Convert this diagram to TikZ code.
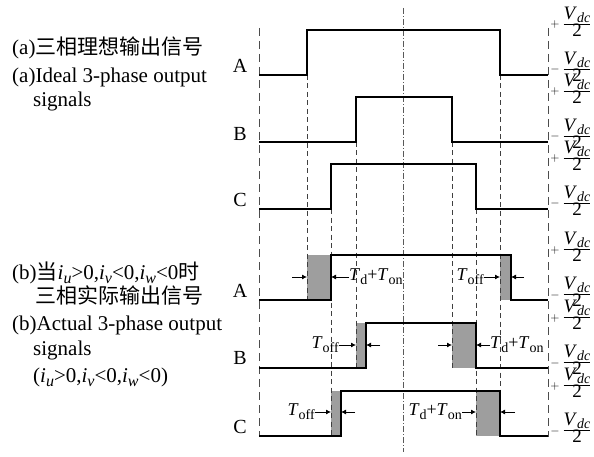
\documentclass[tikz,border=0pt]{standalone}
\usepackage{fontspec}
\setmainfont{Liberation Serif}
\newfontfamily\cjk{Noto Sans CJK SC}
\usetikzlibrary{arrows.meta}
\newcommand\mysub[1]{\raisebox{-0.22em}{\fontsize{14}{14}\selectfont #1}}
\newcommand\myvfrac{{\fontsize{19}{18}\selectfont\renewcommand\arraystretch{0.86}\setlength\tabcolsep{0pt}%
  \begin{tabular}{c}\textit{V}\raisebox{-0.2em}{\fontsize{14}{14}\selectfont\textit{dc}}\\\hline 2\end{tabular}}}
\newcommand\myToff{\textit{T}\mysub{off}}
\newcommand\myTdon{\textit{T}\mysub{d}+\textit{T}\mysub{on}}
\newcommand\myiu[1]{\textit{i}\raisebox{-0.2em}{\fontsize{16}{16}\selectfont\textit{#1}}}
\begin{document}
\begin{tikzpicture}[x=1pt,y=-1pt,
  wave/.style={line width=1.9pt, line join=miter},
  guide/.style={line width=0.8pt, dash pattern=on 5pt off 3.5pt, black!75},
  border/.style={line width=1pt, dash pattern=on 8pt off 5pt, black!70},
  ctrline/.style={line width=0.7pt, dash pattern=on 6pt off 2pt on 1pt off 2pt, black!65},
  ann/.style={-{Latex[length=5pt,width=5pt]}, line width=0.8pt},
  shade/.style={fill=black!38},
  captxt/.style={anchor=base west, inner sep=0pt, font=\fontsize{21}{25}\selectfont},
  phase/.style={anchor=base, inner sep=0pt, font=\fontsize{20}{24}\selectfont},
  tlab/.style={inner sep=0pt, font=\fontsize{18}{20}\selectfont},
  sgn/.style={inner sep=0pt, font=\fontsize{13}{13}\selectfont},
  frc/.style={inner sep=0pt}]
\useasboundingbox (0,0) rectangle (594,457);

% grey intervals
\fill[shade] (307,255) rectangle (331,300);
\fill[shade] (500,255) rectangle (511,300);
\fill[shade] (356,323) rectangle (366,368);
\fill[shade] (452,323) rectangle (476,368);
\fill[shade] (331,391) rectangle (341,436);
\fill[shade] (476,391) rectangle (500,436);

% frame and guide lines
\draw[border] (259,28) -- (259,437);
\draw[border] (548,28) -- (548,437);
\draw[ctrline] (403,8) -- (403,452);
\draw[guide] (307,75) -- (307,300);
\draw[guide] (500,75) -- (500,436);
\draw[guide] (356,142) -- (356,368);
\draw[guide] (452,142) -- (452,368);
\draw[guide] (331,209) -- (331,437);
\draw[guide] (476,209) -- (476,436);

% ideal waveforms
\draw[wave] (259,75) -- (307,75) -- (307,30) -- (500,30) -- (500,75) -- (548,75);
\draw[wave] (259,142) -- (356,142) -- (356,97) -- (452,97) -- (452,142) -- (548,142);
\draw[wave] (259,209) -- (331,209) -- (331,164) -- (476,164) -- (476,209) -- (548,209);
% actual waveforms
\draw[wave] (259,300) -- (331,300) -- (331,255) -- (511,255) -- (511,300) -- (548,300);
\draw[wave] (259,368) -- (366,368) -- (366,323) -- (476,323) -- (476,368) -- (548,368);
\draw[wave] (259,436) -- (341,436) -- (341,391) -- (500,391) -- (500,436) -- (548,436);

% captions
\node[captxt] (ta1) at (12,55) {(a){\cjk 三相理想输出信号}};
\node[captxt] (ta2) at (12,83) {(a)Ideal 3-phase output};
\node[captxt] (ta3) at (33,107) {signals};
\node[captxt] (tb1) at (12,279) {(b){\cjk 当}\myiu{u}>0,\myiu{v}<0,\myiu{w}<0{\cjk 时}};
\node[captxt] (tb2) at (35,303) {{\cjk 三相实际输出信号}};
\node[captxt] (tb3) at (12,330) {(b)Actual 3-phase output};
\node[captxt] (tb4) at (33,355) {signals};
\node[captxt] (tb5) at (33,382) {(\myiu{u}>0,\myiu{v}<0,\myiu{w}<0)};

% phase letters
\node[phase] (pa1) at (240,73) {A};
\node[phase] (pb1) at (240,141) {B};
\node[phase] (pc1) at (240,207) {C};
\node[phase] (pa2) at (240,297) {A};
\node[phase] (pb2) at (240,364) {B};
\node[phase] (pc2) at (240,433) {C};

% timing annotations
\coordinate (a1) at (292,277);
\draw[ann] (a1) -- (307,277);
\node[tlab, anchor=west] (la1) at (349,277) {\myTdon};
\draw[ann] (la1.west) -- (331,277);
\node[tlab, anchor=east] (la2) at (484,277) {\myToff};
\draw[ann] (la2.east) -- (500,277);
\coordinate (a2) at (524,277);
\draw[ann] (a2) -- (511,277);

\node[tlab, anchor=east] (lb1) at (339,345) {\myToff};
\draw[ann] (lb1.east) -- (356,345);
\coordinate (b1) at (380,345);
\draw[ann] (b1) -- (366,345);
\coordinate (b2) at (438,345);
\draw[ann] (b2) -- (452,345);
\node[tlab, anchor=west] (lb2) at (490,345) {\myTdon};
\draw[ann] (lb2.west) -- (476,345);

\node[tlab, anchor=east] (lc1) at (315,412) {\myToff};
\draw[ann] (lc1.east) -- (331,412);
\coordinate (c1) at (355,412);
\draw[ann] (c1) -- (341,412);
\node[tlab, anchor=east] (lc2) at (462,412) {\myTdon};
\draw[ann] (lc2.east) -- (476,412);
\coordinate (c2) at (515,412);
\draw[ann] (c2) -- (500,412);

% level labels
\foreach \L/\s [count=\i] in {30/+,75/-,97/+,142/-,164/+,209/-,255/+,300/-,323/+,368/-,391/+,436/-} {
  \node[sgn] (sg\i) at (555,\L-5) {$\s$};
  \node[frc] (fr\i) at (577,\L-6) {\myvfrac};
}
\end{tikzpicture}
\end{document}
